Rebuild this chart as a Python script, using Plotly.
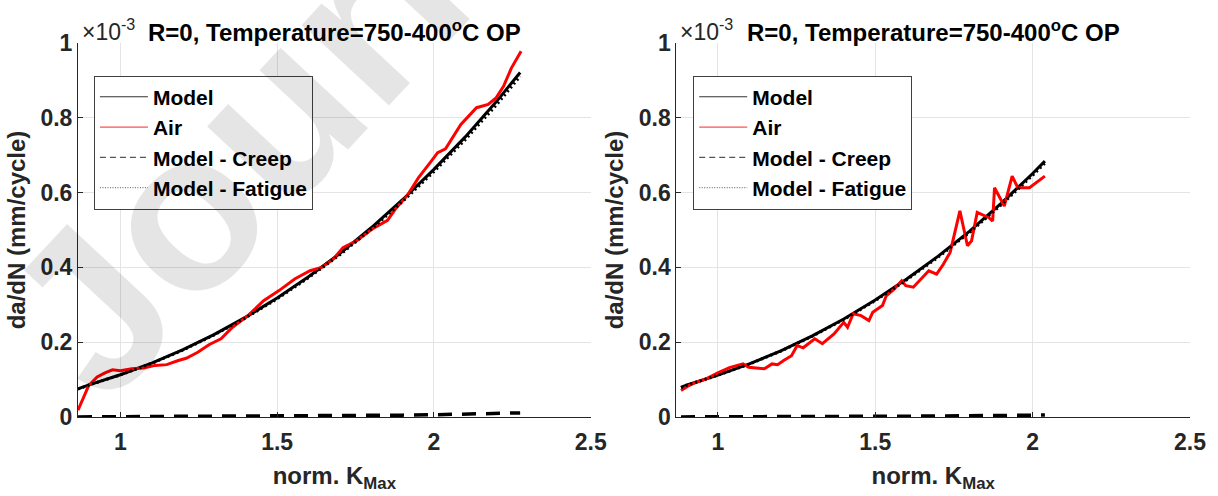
import plotly.graph_objects as go

# ---------------- data (da/dN in units of 1e-3 mm/cycle) ----------------
# Left panel
model_x_l = [0.865, 0.9, 1.0, 1.1, 1.2, 1.3, 1.4, 1.5, 1.6, 1.7, 1.8, 1.9, 2.0, 2.1, 2.2, 2.275]
model_y_l = [0.075, 0.086, 0.113, 0.144, 0.180, 0.221, 0.267, 0.318, 0.375, 0.437, 0.506, 0.581, 0.662, 0.749, 0.844, 0.921]
creep_y_l = [0.0003, 0.0004, 0.0005, 0.0007, 0.001, 0.0013, 0.0017, 0.0022, 0.0027, 0.0033, 0.004, 0.005, 0.006, 0.0075, 0.009, 0.011]
fatigue_y_l = [0.0747, 0.0856, 0.1125, 0.1433, 0.179, 0.2197, 0.2653, 0.3158, 0.3723, 0.4337, 0.502, 0.576, 0.656, 0.7415, 0.835, 0.911]

air_x_l = [0.865, 0.899, 0.926, 0.951, 0.975, 1.0, 1.037, 1.074, 1.111, 1.148, 1.185, 1.21, 1.247,
           1.284, 1.321, 1.358, 1.407, 1.457, 1.506, 1.556, 1.605, 1.642, 1.679, 1.71, 1.753, 1.802,
           1.852, 1.877, 1.914, 1.951, 1.988, 2.012, 2.037, 2.086, 2.136, 2.173, 2.198, 2.222, 2.247, 2.278]
air_y_l = [0.018, 0.084, 0.107, 0.118, 0.126, 0.124, 0.129, 0.131, 0.138, 0.140, 0.151, 0.157, 0.173,
           0.194, 0.209, 0.240, 0.271, 0.311, 0.338, 0.369, 0.391, 0.400, 0.422, 0.453, 0.471, 0.502,
           0.526, 0.556, 0.591, 0.640, 0.680, 0.707, 0.717, 0.782, 0.827, 0.836, 0.853, 0.884, 0.933, 0.978]

# Right panel
model_x_r = [0.883, 0.9, 1.0, 1.1, 1.2, 1.3, 1.4, 1.5, 1.6, 1.7, 1.8, 1.9, 2.0, 2.039]
model_y_r = [0.079, 0.085, 0.112, 0.142, 0.177, 0.217, 0.262, 0.313, 0.369, 0.430, 0.497, 0.571, 0.651, 0.684]
creep_y_r = [0.0003, 0.0003, 0.0004, 0.0006, 0.0008, 0.0011, 0.0014, 0.0018, 0.0022, 0.0027, 0.0033, 0.004, 0.0048, 0.0052]
fatigue_y_r = [0.0787, 0.0847, 0.1116, 0.1414, 0.1762, 0.2159, 0.2606, 0.3112, 0.3668, 0.4273, 0.4937, 0.567, 0.6462, 0.6788]

air_x_r = [0.883, 0.908, 0.932, 0.963, 1.0, 1.037, 1.062, 1.08, 1.098, 1.123, 1.148, 1.172, 1.19, 1.209,
           1.234, 1.252, 1.271, 1.308, 1.332, 1.369, 1.40, 1.412, 1.43, 1.455, 1.48, 1.492, 1.523, 1.535,
           1.56, 1.584, 1.597, 1.621, 1.646, 1.67, 1.695, 1.713, 1.738, 1.769, 1.793, 1.806, 1.824, 1.861,
           1.873, 1.879, 1.91, 1.935, 1.953, 1.99, 2.039]
air_y_r = [0.071, 0.084, 0.093, 0.102, 0.118, 0.132, 0.138, 0.142, 0.133, 0.131, 0.129, 0.142, 0.140, 0.151,
           0.164, 0.191, 0.185, 0.209, 0.196, 0.222, 0.253, 0.240, 0.276, 0.271, 0.258, 0.280, 0.298, 0.324,
           0.342, 0.364, 0.351, 0.347, 0.369, 0.391, 0.382, 0.404, 0.440, 0.551, 0.458, 0.471, 0.547, 0.533,
           0.524, 0.613, 0.564, 0.644, 0.613, 0.613, 0.644]

y_ticks = [0, 0.2, 0.4, 0.6, 0.8, 1]
y_ticklabels = ["0", "0.2", "0.4", "0.6", "0.8", "1"]
x_ticks = [1, 1.5, 2, 2.5]
x_ticklabels = ["1", "1.5", "2", "2.5"]
legend_names = ["Model", "Air", "Model - Creep", "Model - Fatigue"]
title_text = "R=0, Temperature=750-400<sup>o</sup>C OP"
exponent_text = "\u00d710<sup>-3</sup>"
watermark_text = "Journal Pre-proof"

FONT = "Liberation Sans, Arial, sans-serif"
TXT = "#262626"

fig = go.Figure()

panels = [
    ("x", "y", "legend", model_x_l, model_y_l, creep_y_l, fatigue_y_l, air_x_l, air_y_l),
    ("x2", "y2", "legend2", model_x_r, model_y_r, creep_y_r, fatigue_y_r, air_x_r, air_y_r),
]

for xa, ya, lg, mx, my, cy, fy, ax_, ay_ in panels:
    fig.add_trace(go.Scatter(x=mx, y=my, mode="lines", line=dict(color="black", width=3),
                             xaxis=xa, yaxis=ya, showlegend=False, cliponaxis=False, hoverinfo="skip"))
    fig.add_trace(go.Scatter(x=ax_, y=ay_, mode="lines", line=dict(color="#ff0000", width=3),
                             xaxis=xa, yaxis=ya, showlegend=False, cliponaxis=False, hoverinfo="skip"))
    fig.add_trace(go.Scatter(x=mx, y=cy, mode="lines", line=dict(color="black", width=3.5, dash="14px,10px"),
                             xaxis=xa, yaxis=ya, showlegend=False, cliponaxis=False, hoverinfo="skip"))
    fig.add_trace(go.Scatter(x=mx, y=fy, mode="lines", line=dict(color="black", width=3, dash="2px,3px"),
                             xaxis=xa, yaxis=ya, showlegend=False, cliponaxis=False, hoverinfo="skip"))
    styles = [dict(color="#333333", width=1.2),
              dict(color="#ff5050", width=1.2),
              dict(color="#555555", width=1.2, dash="6px,4px"),
              dict(color="#777777", width=1.2, dash="1px,1.5px")]
    for name, st in zip(legend_names, styles):
        fig.add_trace(go.Scatter(x=[None], y=[None], mode="lines", name=name, line=st,
                                 xaxis=xa, yaxis=ya, legend=lg, showlegend=True))

L, R, T, B = 78, 23, 43, 78
W, H = 1218, 496
pw = W - L - R

axis_common = dict(
    showline=True, linecolor=TXT, linewidth=1, mirror=False,
    ticks="inside", ticklen=5, tickcolor=TXT, tickwidth=1,
    showgrid=True, gridcolor="#e4e4e4", gridwidth=1, zeroline=False,
    tickfont=dict(family=FONT, size=23, color=TXT, weight="bold"),
)

xtitle = dict(text="norm. K<sub>Max</sub>", font=dict(family=FONT, size=24, color=TXT, weight="bold"), standoff=13)
ytitle = dict(text="da/dN (mm/cycle)", font=dict(family=FONT, size=24, color=TXT, weight="bold"), standoff=8)

d1 = [0, (593 - L) / pw]
d2 = [(679 - L) / pw, 1]

legend_common = dict(xanchor="left", yanchor="top", bgcolor="white", bordercolor="#404040", borderwidth=1,
                     font=dict(family=FONT, size=21, color="black", weight="bold"),
                     itemwidth=48, tracegroupgap=0)

fig.update_layout(
    width=W, height=H,
    margin=dict(l=L, r=R, t=T, b=B, pad=0),
    paper_bgcolor="white", plot_bgcolor="white",
    xaxis=dict(domain=d1, range=[0.865, 2.5], tickvals=x_ticks, ticktext=x_ticklabels,
               title=xtitle, anchor="y", ticklabelstandoff=4, **axis_common),
    yaxis=dict(domain=[0, 1], range=[0, 1], tickvals=y_ticks, ticktext=y_ticklabels,
               title=ytitle, anchor="x", **axis_common),
    xaxis2=dict(domain=d2, range=[0.868, 2.5], tickvals=x_ticks, ticktext=x_ticklabels,
                title=xtitle, anchor="y2", ticklabelstandoff=4, **axis_common),
    yaxis2=dict(domain=[0, 1], range=[0, 1], tickvals=y_ticks, ticktext=y_ticklabels,
                title=ytitle, anchor="x2", **axis_common),
    legend=dict(x=(94 - L) / pw, y=(418.3 - 76) / 375, **legend_common),
    legend2=dict(x=(696 - L) / pw, y=(418.3 - 76) / 375, **legend_common),
    showlegend=True,
)

annotations = []
for xa, ya in [("x", "y"), ("x2", "y2")]:
    annotations.append(dict(text=title_text, xref=f"{xa} domain", yref=f"{ya} domain", x=0.5, y=1,
                            xanchor="center", yanchor="bottom", yshift=-5, showarrow=False,
                            font=dict(family=FONT, size=24, color="black", weight="bold")))
    annotations.append(dict(text=exponent_text, xref=f"{xa} domain", yref=f"{ya} domain", x=0, y=1,
                            xanchor="left", yanchor="bottom", xshift=2, yshift=-4, showarrow=False,
                            font=dict(family=FONT, size=23, color=TXT)))

# watermark
annotations.append(dict(text=watermark_text, xref="paper", yref="paper",
                        x=(695 - L) / pw, y=(418.3 + 335) / 375, xanchor="center", yanchor="middle",
                        textangle=-47, showarrow=False,
                        font=dict(family=FONT, size=225, color="rgba(0,0,0,0.1)", weight="bold")))
fig.update_layout(annotations=annotations)

fig.write_html("out.html", config={"displayModeBar": False},
               post_script="document.body.style.margin='0';document.body.style.padding='0';")
